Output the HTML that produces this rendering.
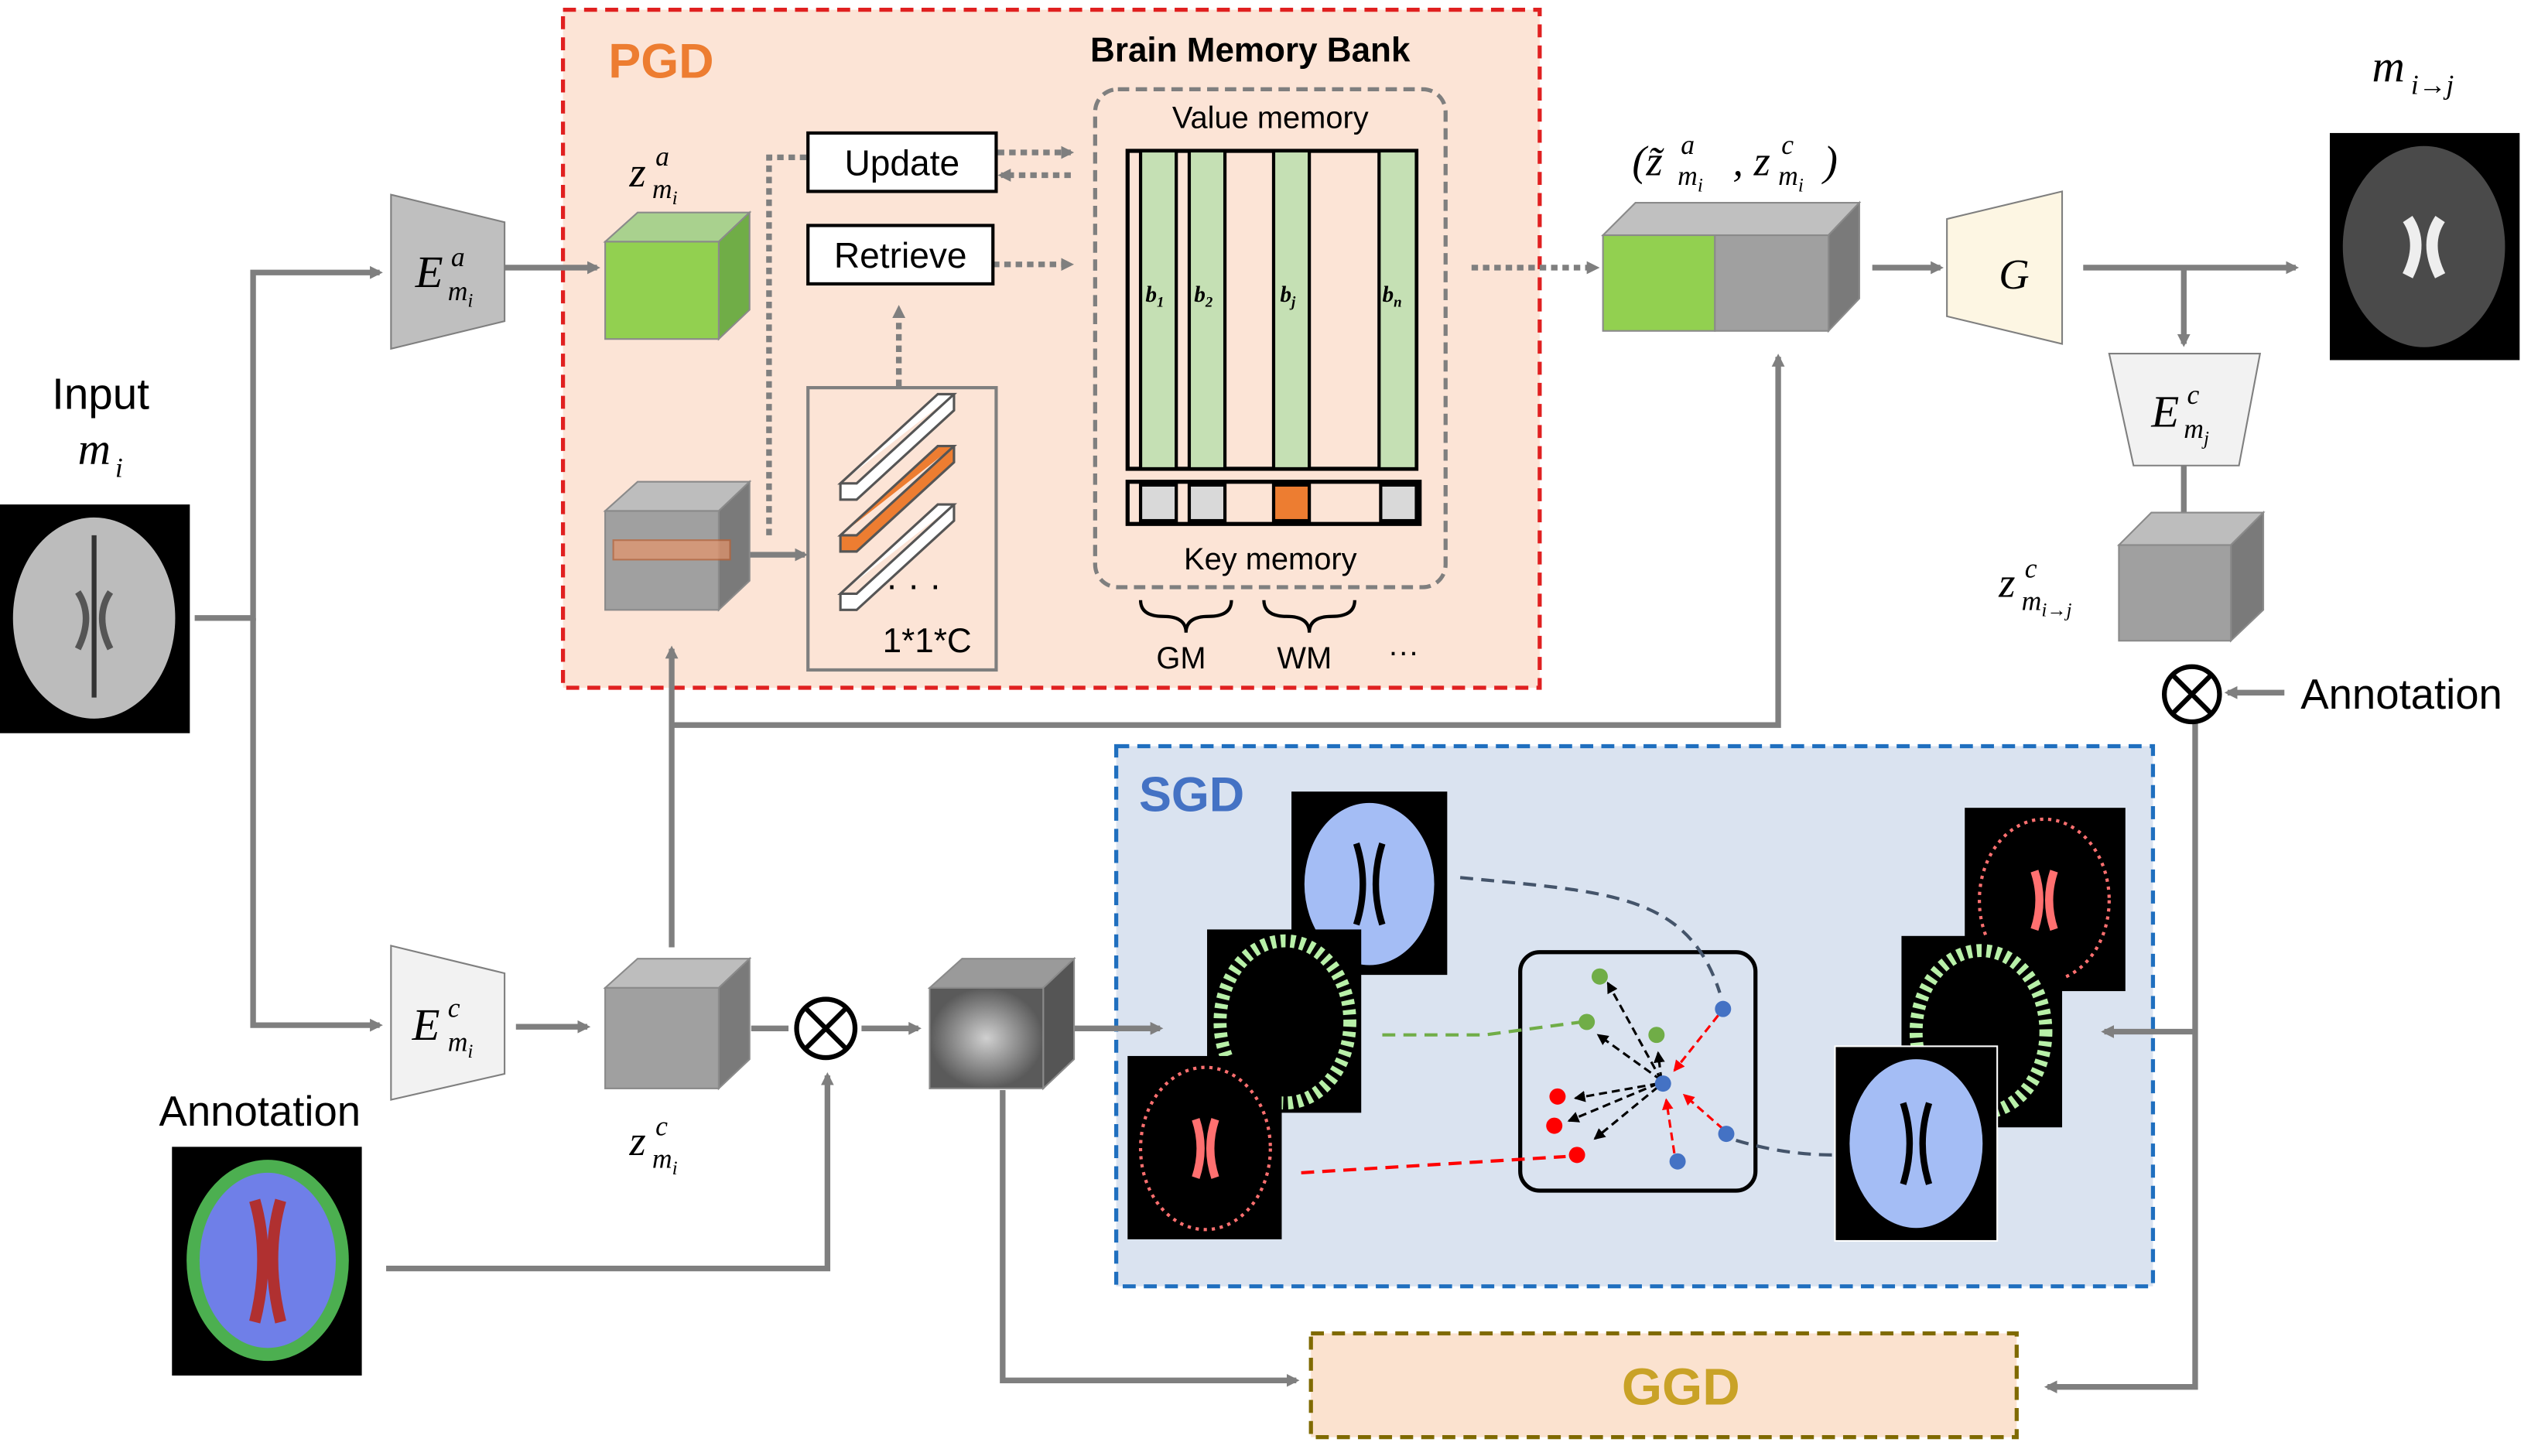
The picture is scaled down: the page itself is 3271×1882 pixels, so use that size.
<!DOCTYPE html>
<html><head><meta charset="utf-8"><style>
html,body{margin:0;padding:0;background:#fff}
svg{display:block}
text{font-family:"Liberation Sans",sans-serif}
.m{font-family:"Liberation Serif",serif;font-style:italic}
</style></head><body>
<svg width="3271" height="1882" viewBox="0 0 1560 897.6" preserveAspectRatio="none" xmlns="http://www.w3.org/2000/svg">
<defs>
<marker id="ah" markerWidth="8" markerHeight="8" refX="6" refY="4" orient="auto" markerUnits="userSpaceOnUse"><path d="M0,0 L8,4 L0,8 z" fill="#7f7f7f"/></marker>
<marker id="ak" markerWidth="7" markerHeight="7" refX="6" refY="3.5" orient="auto" markerUnits="userSpaceOnUse"><path d="M0,0 L7,3.5 L0,7 z" fill="#000"/></marker>
<marker id="ar" markerWidth="7" markerHeight="7" refX="6" refY="3.5" orient="auto" markerUnits="userSpaceOnUse"><path d="M0,0 L7,3.5 L0,7 z" fill="#f00"/></marker>
<radialGradient id="dg"><stop offset="0" stop-color="#d0d0d0"/><stop offset="1" stop-color="#5a5a5a"/></radialGradient>
</defs>
<!-- PGD -->
<rect x="347" y="6" width="602" height="418" fill="#fce4d6" stroke="#e02020" stroke-width="2.5" stroke-dasharray="8,5"/>
<text x="375" y="48" font-size="30" font-weight="bold" fill="#ed7d31">PGD</text>
<text x="672" y="38" font-size="21" font-weight="bold">Brain Memory Bank</text>
<!-- SGD -->
<rect x="688" y="460" width="639" height="333" fill="#dae3f0" stroke="#1f6fbf" stroke-width="2.5" stroke-dasharray="8,5"/>
<text x="702" y="500" font-size="30" font-weight="bold" fill="#4472c4">SGD</text>
<!-- GGD -->
<rect x="808" y="822" width="435" height="64" fill="#fbe2cf" stroke="#7f6a00" stroke-width="2.5" stroke-dasharray="8,5"/>
<text x="1036" y="866" font-size="32" font-weight="bold" fill="#c9a227" text-anchor="middle">GGD</text>

<!-- connectors -->
<g stroke="#7f7f7f" stroke-width="3.5" fill="none">
<path d="M120,381 H156 V168 H234" marker-end="url(#ah)"/>
<path d="M156,381 V632 H234" marker-end="url(#ah)"/>
<path d="M311,165 H368" marker-end="url(#ah)"/>
<path d="M318,633 H362" marker-end="url(#ah)"/>
<path d="M414,584 V400" marker-end="url(#ah)"/>
<path d="M414,447 H1096 V220" marker-end="url(#ah)"/>
<path d="M462,342 H496" marker-end="url(#ah)"/>
<path d="M463,634 H486"/>
<path d="M531,634 H566" marker-end="url(#ah)"/>
<path d="M238,782 H510 V663" marker-end="url(#ah)"/>
<path d="M662,634 H715" marker-end="url(#ah)"/>
<path d="M618,672 V851 H799" marker-end="url(#ah)"/>
<path d="M1154,165 H1196" marker-end="url(#ah)"/>
<path d="M1284,165 H1415" marker-end="url(#ah)"/>
<path d="M1346,165 V212" marker-end="url(#ah)"/>
<path d="M1346,287 V324" marker-end="url(#ah)"/>
<path d="M1408,427 H1373" marker-end="url(#ah)"/>
<path d="M1353,445 V855 H1262" marker-end="url(#ah)"/>
<path d="M1353,636 H1297" marker-end="url(#ah)"/>
</g>
<g stroke="#7f7f7f" stroke-width="3.5" fill="none" stroke-dasharray="4,3">
<path d="M474,330 V97 H497"/>
<path d="M615,94 H660" marker-end="url(#ah)"/>
<path d="M660,108 H617" marker-end="url(#ah)"/>
<path d="M612,163 H660" marker-end="url(#ah)"/>
<path d="M554,238 V190" marker-end="url(#ah)"/>
<path d="M907,165 H984" marker-end="url(#ah)"/>
</g>

<!-- otimes -->
<g stroke="#000" stroke-width="3" fill="#fff">
<circle cx="509" cy="634" r="18"/><path d="M496,621 L522,647 M522,621 L496,647"/>
<circle cx="1351" cy="428" r="17"/><path d="M1339,416 L1363,440 M1363,416 L1339,440"/>
</g>

<!-- trapezoids -->
<path d="M241,120 L311,137 L311,198 L241,215 Z" fill="#bfbfbf" stroke="#7f7f7f"/>
<text x="256" y="177" class="m" font-size="28">E</text><text x="278" y="164" class="m" font-size="17">a</text><text x="276" y="185" class="m" font-size="17">m<tspan font-size="12" dy="4">i</tspan></text>
<path d="M241,583 L311,600 L311,662 L241,678 Z" fill="#f2f2f2" stroke="#7f7f7f"/>
<text x="254" y="641" class="m" font-size="28">E</text><text x="276" y="627" class="m" font-size="17">c</text><text x="276" y="648" class="m" font-size="17">m<tspan font-size="12" dy="4">i</tspan></text>
<path d="M1200,135 L1271,118 L1271,212 L1200,195 Z" fill="#fdf6e3" stroke="#7f7f7f"/>
<text x="1232" y="178" class="m" font-size="26">G</text>
<path d="M1300,218 L1393,218 L1380,287 L1315,287 Z" fill="#f2f2f2" stroke="#7f7f7f"/>
<text x="1326" y="263" class="m" font-size="28">E</text><text x="1348" y="249" class="m" font-size="17">c</text><text x="1346" y="270" class="m" font-size="17">m<tspan font-size="12" dy="4">j</tspan></text>

<!-- cubes -->
<g stroke="#8a8a8a" stroke-width="1">
<path d="M373,149 L393,131 L462,131 L443,149 Z" fill="#a9d18e"/><path d="M443,149 L462,131 L462,191 L443,209 Z" fill="#70ad47"/><rect x="373" y="149" width="70" height="60" fill="#92d050"/>
<path d="M373,315 L393,297 L462,297 L443,315 Z" fill="#bdbdbd"/><path d="M443,315 L462,297 L462,358 L443,376 Z" fill="#7a7a7a"/><rect x="373" y="315" width="70" height="61" fill="#a0a0a0"/>
<rect x="378" y="333" width="72" height="12" fill="#e8956a" opacity="0.7" stroke="#c06030"/>
<path d="M373,609 L393,591 L462,591 L443,609 Z" fill="#bdbdbd"/><path d="M443,609 L462,591 L462,653 L443,671 Z" fill="#7a7a7a"/><rect x="373" y="609" width="70" height="62" fill="#a0a0a0"/>
<path d="M573,609 L593,591 L662,591 L643,609 Z" fill="#9a9a9a"/><path d="M643,609 L662,591 L662,653 L643,671 Z" fill="#555"/><rect x="573" y="609" width="70" height="62" fill="url(#dg)"/>
<path d="M988,145 L1008,125 L1146,125 L1127,145 Z" fill="#c0c0c0"/><path d="M1127,145 L1146,125 L1146,184 L1127,204 Z" fill="#7a7a7a"/><rect x="988" y="145" width="69" height="59" fill="#92d050"/><rect x="1057" y="145" width="70" height="59" fill="#a0a0a0"/>
<path d="M1306,336 L1326,316 L1395,316 L1375,336 Z" fill="#bdbdbd"/><path d="M1375,336 L1395,316 L1395,376 L1375,395 Z" fill="#7a7a7a"/><rect x="1306" y="336" width="69" height="59" fill="#a0a0a0"/>
</g>

<!-- z labels -->
<text x="388" y="115" class="m" font-size="26">z</text><text x="404" y="102" class="m" font-size="17">a</text><text x="402" y="122" class="m" font-size="17">m<tspan font-size="12" dy="4">i</tspan></text>
<text x="388" y="712" class="m" font-size="26">z</text><text x="404" y="700" class="m" font-size="17">c</text><text x="402" y="720" class="m" font-size="17">m<tspan font-size="12" dy="4">i</tspan></text>
<text x="1232" y="368" class="m" font-size="26">z</text><text x="1248" y="356" class="m" font-size="17">c</text><text x="1246" y="376" class="m" font-size="17">m<tspan font-size="12" dy="4">i→j</tspan></text>
<text x="1006" y="108" class="m" font-size="26">(z̃</text><text x="1036" y="95" class="m" font-size="17">a</text><text x="1034" y="114" class="m" font-size="17">m<tspan font-size="12" dy="4">i</tspan></text>
<text x="1068" y="108" class="m" font-size="26">, z</text><text x="1098" y="95" class="m" font-size="17">c</text><text x="1096" y="114" class="m" font-size="17">m<tspan font-size="12" dy="4">i</tspan></text><text x="1124" y="108" class="m" font-size="26">)</text>
<text x="1462" y="50" class="m" font-size="28">m</text><text x="1486" y="58" class="m" font-size="17">i→j</text>
<text x="32" y="252" font-size="27">Input</text>
<text x="48" y="286" class="m" font-size="28">m</text><text x="71" y="294" class="m" font-size="17">i</text>
<text x="98" y="694" font-size="26">Annotation</text>
<text x="1418" y="437" font-size="26">Annotation</text>

<!-- update/retrieve -->
<rect x="498" y="82" width="116" height="36" fill="#fff" stroke="#000" stroke-width="2"/>
<text x="556" y="108" font-size="22" text-anchor="middle">Update</text>
<rect x="498" y="139" width="114" height="36" fill="#fff" stroke="#000" stroke-width="2"/>
<text x="555" y="165" font-size="22" text-anchor="middle">Retrieve</text>
<!-- 1*1*C box -->
<rect x="498" y="239" width="116" height="174" fill="none" stroke="#7f7f7f" stroke-width="2"/>
<g stroke="#555" stroke-width="1.5">
<path d="M518,298 L578,243 L588,243 L528,298 Z M518,298 L518,308 L528,308 L588,253 L588,243" fill="#fff"/>
<path d="M518,330 L578,275 L588,275 L528,330 Z M518,330 L518,340 L528,340 L588,285 L588,275" fill="#ed7d31"/>
<path d="M518,366 L578,311 L588,311 L528,366 Z M518,366 L518,376 L528,376 L588,321 L588,311" fill="#fff"/>
</g>
<text x="546" y="368" font-size="22">· · ·</text>
<text x="544" y="402" font-size="21">1*1*C</text>

<!-- memory bank -->
<rect x="675" y="55" width="216" height="307" rx="14" fill="none" stroke="#7f7f7f" stroke-width="2.5" stroke-dasharray="7,4"/>
<text x="783" y="79" font-size="19" text-anchor="middle">Value memory</text>
<text x="783" y="351" font-size="19" text-anchor="middle">Key memory</text>
<rect x="695" y="93" width="178" height="196" fill="#fce4d6" stroke="#000" stroke-width="2.5"/>
<g stroke="#000" stroke-width="2" fill="#c5e0b4">
<rect x="703" y="93" width="22" height="196"/><rect x="733" y="93" width="22" height="196"/><rect x="785" y="93" width="22" height="196"/><rect x="850" y="93" width="23" height="196"/>
</g>
<g class="m" font-size="14" font-weight="bold">
<text x="706" y="186" class="m">b<tspan font-size="9" dy="3">1</tspan></text><text x="736" y="186" class="m">b<tspan font-size="9" dy="3">2</tspan></text><text x="789" y="186" class="m">b<tspan font-size="9" dy="3">j</tspan></text><text x="852" y="186" class="m">b<tspan font-size="9" dy="3">n</tspan></text>
</g>
<rect x="695" y="297" width="180" height="26" fill="#fce4d6" stroke="#000" stroke-width="2.5"/>
<g stroke="#000" stroke-width="2" fill="#d9d9d9"><rect x="703" y="299" width="22" height="22"/><rect x="733" y="299" width="22" height="22"/><rect x="785" y="299" width="22" height="22" fill="#ed7d31"/><rect x="851" y="299" width="22" height="22"/></g>
<path d="M703,370 q0,10 14,10 q14,0 14,10 q0,-10 14,-10 q14,0 14,-10 M779,370 q0,10 14,10 q14,0 14,10 q0,-10 14,-10 q14,0 14,-10" fill="none" stroke="#000" stroke-width="2"/>
<text x="728" y="412" font-size="19" text-anchor="middle">GM</text>
<text x="804" y="412" font-size="19" text-anchor="middle">WM</text>
<text x="865" y="408" font-size="19" text-anchor="middle">···</text>

<!-- brain images -->
<g>
<rect x="0" y="311" width="117" height="141" fill="#000"/><ellipse cx="58" cy="381" rx="50" ry="62" fill="#bcbcbc"/><path d="M58,330 V430" stroke="#333" stroke-width="3"/><path d="M48,365 q10,15 0,35 M68,365 q-10,15 0,35" stroke="#555" stroke-width="4" fill="none"/>
<rect x="1436" y="82" width="117" height="140" fill="#000"/><ellipse cx="1494" cy="152" rx="50" ry="62" fill="#4a4a4a"/><path d="M1484,135 q10,15 0,35 M1504,135 q-10,15 0,35" stroke="#eee" stroke-width="7" fill="none"/>
<rect x="106" y="707" width="117" height="141" fill="#000"/><ellipse cx="165" cy="777" rx="50" ry="62" fill="#4caf50"/><ellipse cx="165" cy="777" rx="42" ry="54" fill="#6f7fe8"/><path d="M157,740 q10,35 0,75 M173,740 q-10,35 0,75" stroke="#b03030" stroke-width="7" fill="none"/>
<rect x="796" y="488" width="96" height="113" fill="#000"/><ellipse cx="844" cy="545" rx="40" ry="50" fill="#a4bdf5"/><path d="M836,520 q8,25 0,50 M852,520 q-8,25 0,50" stroke="#000" stroke-width="4" fill="none"/>
<rect x="744" y="573" width="95" height="113" fill="#000"/><ellipse cx="792" cy="630" rx="40" ry="50" fill="none" stroke="#b8f0a8" stroke-width="8" stroke-dasharray="3,3"/>
<rect x="695" y="651" width="95" height="113" fill="#000"/><ellipse cx="743" cy="708" rx="40" ry="50" fill="none" stroke="#ff7070" stroke-width="2" stroke-dasharray="2,3"/><path d="M737,690 q6,18 0,36 M749,690 q-6,18 0,36" stroke="#ff7070" stroke-width="5" fill="none"/>
<rect x="1211" y="498" width="99" height="113" fill="#000"/><ellipse cx="1260" cy="555" rx="40" ry="50" fill="none" stroke="#ff7070" stroke-width="2" stroke-dasharray="2,3"/><path d="M1254,537 q6,18 0,36 M1266,537 q-6,18 0,36" stroke="#ff7070" stroke-width="5" fill="none"/>
<rect x="1172" y="577" width="99" height="118" fill="#000"/><ellipse cx="1221" cy="636" rx="40" ry="50" fill="none" stroke="#b8f0a8" stroke-width="8" stroke-dasharray="3,3"/>
<rect x="1131" y="645" width="100" height="120" fill="#000" stroke="#fff"/><ellipse cx="1181" cy="705" rx="41" ry="52" fill="#a4bdf5"/><path d="M1173,680 q8,25 0,50 M1189,680 q-8,25 0,50" stroke="#000" stroke-width="4" fill="none"/>
</g>

<!-- cluster -->
<rect x="937" y="587" width="145" height="147" rx="12" fill="none" stroke="#000" stroke-width="2.5"/>
<g fill="none" stroke-width="2" stroke-dasharray="8,5">
<path d="M900,541 C990,550 1040,550 1060,612" stroke="#44546a"/>
<path d="M852,638 H915 L975,630" stroke="#70ad47"/>
<path d="M802,723 L965,713" stroke="#f00"/>
<path d="M1070,703 Q1100,712 1130,712" stroke="#44546a"/>
</g>
<g stroke-width="1.5" stroke-dasharray="5,3" fill="none">
<path d="M1024,666 L991,606" stroke="#000" marker-end="url(#ak)"/>
<path d="M1024,666 L985,638" stroke="#000" marker-end="url(#ak)"/>
<path d="M1024,666 L1022,649" stroke="#000" marker-end="url(#ak)"/>
<path d="M1022,668 L971,677" stroke="#000" marker-end="url(#ak)"/>
<path d="M1022,668 L967,691" stroke="#000" marker-end="url(#ak)"/>
<path d="M1022,670 L983,702" stroke="#000" marker-end="url(#ak)"/>
<path d="M1059,626 L1032,660" stroke="#f00" marker-end="url(#ar)"/>
<path d="M1062,696 L1038,675" stroke="#f00" marker-end="url(#ar)"/>
<path d="M1032,711 L1027,678" stroke="#f00" marker-end="url(#ar)"/>
</g>
<g>
<circle cx="986" cy="602" r="5" fill="#70ad47"/><circle cx="978" cy="630" r="5" fill="#70ad47"/><circle cx="1021" cy="638" r="5" fill="#70ad47"/>
<circle cx="1062" cy="622" r="5" fill="#4472c4"/><circle cx="1025" cy="668" r="5" fill="#4472c4"/><circle cx="1064" cy="699" r="5" fill="#4472c4"/><circle cx="1034" cy="716" r="5" fill="#4472c4"/>
<circle cx="960" cy="676" r="5" fill="#f00"/><circle cx="958" cy="694" r="5" fill="#f00"/><circle cx="972" cy="712" r="5" fill="#f00"/>
</g>
</svg>
</body></html>
